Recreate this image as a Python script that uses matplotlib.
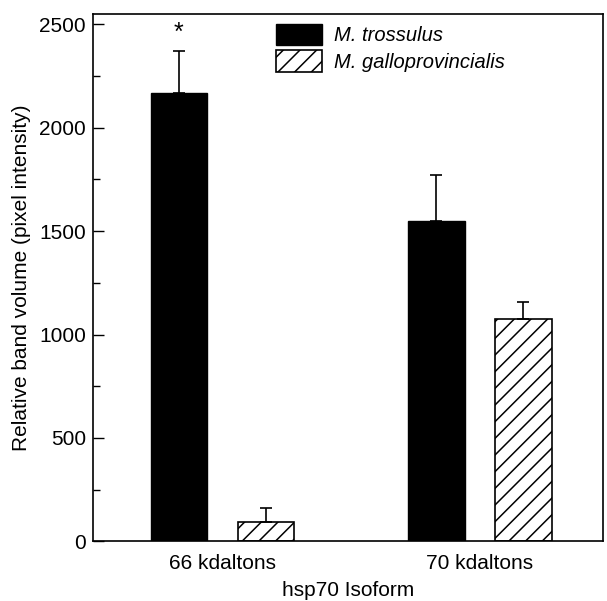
import numpy as np
import matplotlib
matplotlib.use('Agg')
import matplotlib.pyplot as plt
from matplotlib.ticker import MultipleLocator

plt.rcParams['font.family'] = ['Liberation Sans', 'DejaVu Sans']
plt.rcParams['hatch.linewidth'] = 1.1

# data
isoforms = ['66 kdaltons', '70 kdaltons']
trossulus = [2170, 1550]
trossulus_err = [200, 220]
gallo = [93, 1075]
gallo_err = [67, 80]

x = np.arange(len(isoforms))
w = 0.22
off = 0.169

fig = plt.figure(figsize=(6.07, 6.01), dpi=100)
ax = fig.add_axes([0.1532, 0.0993, 0.8402, 0.8774])

ekw = dict(ecolor='black', elinewidth=1.2, capsize=4, capthick=1.2)
ax.bar(x - off, trossulus, w, color='black', edgecolor='black',
       yerr=[np.zeros(2), trossulus_err], error_kw=ekw, label='M. trossulus')
ax.bar(x + off, gallo, w, color='white', edgecolor='black', hatch='//', linewidth=1.2,
       yerr=[np.zeros(2), gallo_err], error_kw=ekw, label='M. galloprovincialis')

# significance marker
ax.text(x[0] - off, trossulus[0] + trossulus_err[0] + 88, '*', ha='center', va='center', fontsize=18)

ax.set_xlim(-0.503, 1.479)
ax.set_ylim(0, 2550)
ax.yaxis.set_major_locator(MultipleLocator(500))
ax.yaxis.set_minor_locator(MultipleLocator(250))
ax.tick_params(axis='y', which='major', direction='in', length=8, width=1, labelsize=15, pad=5)
ax.tick_params(axis='y', which='minor', direction='in', length=5, width=1)
ax.set_xticks(x)
ax.set_xticklabels(isoforms)
ax.tick_params(axis='x', length=0, labelsize=15, pad=9)
for s in ax.spines.values():
    s.set_linewidth(1.2)

ax.set_ylabel('Relative band volume (pixel intensity)', fontsize=15, labelpad=6)
ax.set_xlabel('hsp70 Isoform', fontsize=15, labelpad=6)

leg = ax.legend(loc='upper left', bbox_to_anchor=(0.359, 0.981), frameon=False,
                prop={'style': 'italic', 'size': 14.5}, handlelength=2.3, handleheight=1.25,
                handletextpad=0.6, labelspacing=0.25, borderaxespad=0, borderpad=0)

fig.savefig('out.png', dpi=100)
